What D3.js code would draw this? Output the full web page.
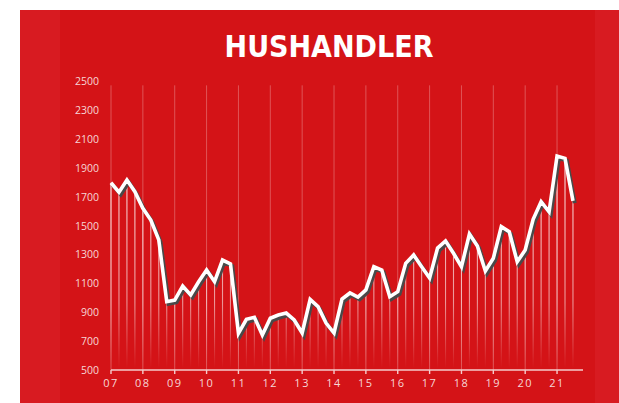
<!DOCTYPE html>
<html>
<head>
<meta charset="utf-8">
<script src="https://cdn.jsdelivr.net/npm/d3@7"></script>
<style>
  html, body { margin: 0; padding: 0; background: #fff; }
  svg { display: block; }
</style>
</head>
<body>
<div id="chart"></div>
<script>
// quarterly figures, 2007 Q1 .. 2021 Q3
var years = ["07","08","09","10","11","12","13","14","15","16","17","18","19","20","21"];
var values = [
  1796, 1730, 1815, 1734,   // 07
  1619, 1538, 1400, 973,    // 08
  984, 1081, 1019, 1111,    // 09
  1192, 1111, 1261, 1234,   // 10
  754, 851, 865, 742,       // 11
  858, 880, 894, 846,       // 12
  756, 989, 938, 825,       // 13
  756, 991, 1033, 1005,     // 14
  1054, 1215, 1192, 1007,   // 15
  1042, 1238, 1296, 1215,   // 16
  1137, 1344, 1393, 1308,   // 17
  1215, 1441, 1358, 1185,   // 18
  1273, 1492, 1457, 1249,   // 19
  1330, 1543, 1665, 1595,   // 20
  1981, 1965, 1670          // 21
];
var yTicks = [500, 700, 900, 1100, 1300, 1500, 1700, 1900, 2100, 2300, 2500];

var W = 619, H = 403;
var svg = d3.select("#chart").append("svg")
    .attr("width", W)
    .attr("height", H);

// background panel
svg.append("rect").attr("x", 20).attr("y", 10).attr("width", W - 20).attr("height", H - 10).attr("fill", "#d81b21");
svg.append("rect").attr("x", 60).attr("y", 10).attr("width", 535).attr("height", H - 10).attr("fill", "#d41317");

var defs = svg.append("defs");
var grad = defs.append("linearGradient")
    .attr("id", "drop")
    .attr("gradientUnits", "userSpaceOnUse")
    .attr("x1", 0).attr("x2", 0)
    .attr("y1", 150).attr("y2", 368);
grad.append("stop").attr("offset", "0").attr("stop-color", "#fff").attr("stop-opacity", 0.9);
grad.append("stop").attr("offset", "0.7").attr("stop-color", "#fff").attr("stop-opacity", 0.55);
grad.append("stop").attr("offset", "1").attr("stop-color", "#fff").attr("stop-opacity", 0);

var shadow = defs.append("filter").attr("id", "shadow")
    .attr("x", "-10%").attr("y", "-10%").attr("width", "120%").attr("height", "120%");
shadow.append("feGaussianBlur").attr("stdDeviation", 0.6);

// scales: year ticks at every 4th quarter
var x0 = 111, perQuarter = 7.965;
var x = d3.scaleLinear()
    .domain([0, 58])
    .range([x0, x0 + 58 * perQuarter]);
var y = d3.scaleLinear()
    .domain([500, 2500])
    .range([370, 81]);

// title
svg.append("text")
    .attr("x", 329)
    .attr("y", 57)
    .attr("text-anchor", "middle")
    .attr("fill", "#fff")
    .style("font-family", "'DejaVu Sans Condensed', 'DejaVu Sans', sans-serif")
    .style("font-weight", "bold")
    .style("font-size", "30px")
    .text("HUSHANDLER");

// year grid lines
svg.append("g").selectAll("line")
    .data(years)
    .enter().append("line")
    .attr("x1", function(d, i) { return x(i * 4); })
    .attr("x2", function(d, i) { return x(i * 4); })
    .attr("y1", y(2470))
    .attr("y2", y(500))
    .attr("stroke", "#fff")
    .attr("stroke-opacity", 0.28)
    .attr("stroke-width", 1);

// drop lines from each point
svg.append("g").selectAll("line")
    .data(values)
    .enter().append("line")
    .attr("x1", function(d, i) { return x(i); })
    .attr("x2", function(d, i) { return x(i); })
    .attr("y1", function(d) { return y(d); })
    .attr("y2", y(500) - 2)
    .attr("stroke", "url(#drop)")
    .attr("stroke-width", 1.1);

// the line, with dark shadow underneath
var line = d3.line()
    .x(function(d, i) { return x(i); })
    .y(function(d) { return y(d); })
    .curve(d3.curveLinear);

svg.append("path")
    .datum(values)
    .attr("d", line)
    .attr("transform", "translate(1.8,2.2)")
    .attr("fill", "none")
    .attr("stroke", "#4a4a4a")
    .attr("stroke-width", 4)
    .attr("stroke-linejoin", "miter")
    .attr("filter", "url(#shadow)");

svg.append("path")
    .datum(values)
    .attr("d", line)
    .attr("fill", "none")
    .attr("stroke", "#fff")
    .attr("stroke-width", 3.6)
    .attr("stroke-linejoin", "miter");

// y axis labels
svg.append("g").selectAll("text")
    .data(yTicks)
    .enter().append("text")
    .attr("x", 99)
    .attr("y", function(d) { return y(d) + 4; })
    .attr("text-anchor", "end")
    .attr("fill", "#f6d6d6")
    .style("font-family", "'Open Sans', sans-serif")
    .style("font-size", "10.5px")
    .text(function(d) { return d; });

// x axis
var xAxis = svg.append("g");
xAxis.append("line")
    .attr("x1", x(0))
    .attr("x2", 583)
    .attr("y1", y(500))
    .attr("y2", y(500))
    .attr("stroke", "#f4cccc")
    .attr("stroke-width", 1.6);
xAxis.selectAll(".tick")
    .data(years)
    .enter().append("line")
    .attr("x1", function(d, i) { return x(i * 4); })
    .attr("x2", function(d, i) { return x(i * 4); })
    .attr("y1", y(500))
    .attr("y2", y(500) + 4)
    .attr("stroke", "#f4cccc")
    .attr("stroke-width", 1.4);
xAxis.selectAll("text")
    .data(years)
    .enter().append("text")
    .attr("x", function(d, i) { return x(i * 4); })
    .attr("y", 387)
    .attr("text-anchor", "middle")
    .attr("fill", "#f6d6d6")
    .style("font-family", "'Open Sans', sans-serif")
    .style("font-size", "11px")
    .style("letter-spacing", "1.5px")
    .text(function(d) { return d; });
</script>
</body>
</html>
